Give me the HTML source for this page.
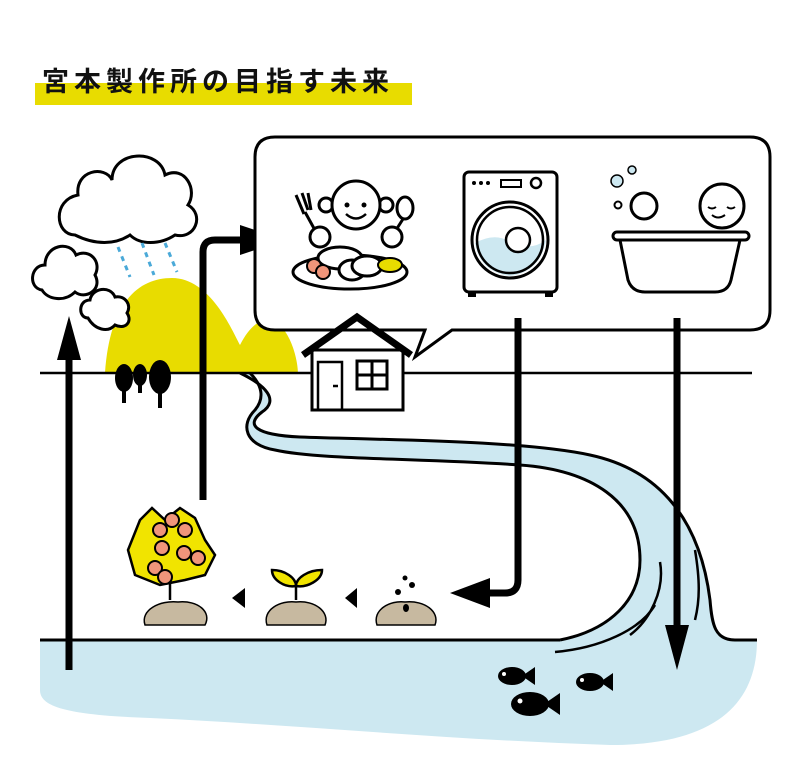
<!DOCTYPE html>
<html><head><meta charset="utf-8"><style>
html,body{margin:0;padding:0;background:#fff;}
svg{display:block;}
</style></head><body>
<svg width="800" height="766" viewBox="0 0 800 766" xmlns="http://www.w3.org/2000/svg">
<!-- title -->
<rect x="35" y="83" width="377" height="22" fill="#e8dc00"/>
<text x="42" y="91" font-family="'Noto Sans CJK JP','WenQuanYi Zen Hei',sans-serif" font-weight="bold" font-size="27" letter-spacing="5" fill="#111">宮本製作所の目指す未来</text>

<!-- water body -->
<path d="M40 640 L757 640 C757 700 720 745 610 745 C450 740 300 725 150 718 C60 715 40 705 40 690 Z" fill="#cde8f1"/>
<!-- river -->
<path d="M240 373 C265 385 280 400 262 412 C245 425 255 435 300 437 C380 440 520 440 590 455 C660 470 700 520 710 600 C712 625 715 640 735 640 L560 640 C610 630 640 600 640 560 C640 500 590 470 520 465 C420 458 320 460 275 450 C245 445 240 425 255 410 C265 398 260 385 250 373 Z" fill="#cde8f1"/>
<path d="M240 373 C265 385 280 400 262 412 C245 425 255 435 300 437 C380 440 520 440 590 455 C660 470 700 520 710 600 C712 625 715 640 735 640" fill="none" stroke="#000" stroke-width="3"/>
<path d="M250 373 C262 385 265 398 255 410 C240 425 245 445 275 450 C320 460 420 458 520 465 C590 470 640 500 640 560 C640 600 610 630 560 640" fill="none" stroke="#000" stroke-width="3"/>
<path d="M660 562 C665 590 650 620 630 635" fill="none" stroke="#000" stroke-width="2.5"/>
<path d="M555 652 C600 648 640 630 655 605" fill="none" stroke="#000" stroke-width="2.5"/>
<path d="M695 550 C700 580 700 600 695 620" fill="none" stroke="#000" stroke-width="2.5"/>

<!-- hills -->
<path d="M105 373 C110 300 140 278 172 278 C210 278 232 330 240 345 C250 325 262 318 270 320 C290 325 298 360 298 373 Z" fill="#e8dc00"/>

<!-- ground and water lines -->
<line x1="40" y1="373" x2="752" y2="373" stroke="#000" stroke-width="2.5"/>
<line x1="40" y1="640" x2="560" y2="640" stroke="#000" stroke-width="3"/>
<line x1="735" y1="640" x2="757" y2="640" stroke="#000" stroke-width="3"/>

<!-- trees -->
<g fill="#000">
<ellipse cx="124" cy="378" rx="9" ry="14"/><rect x="122" y="388" width="4" height="15"/>
<ellipse cx="140" cy="375" rx="7" ry="11"/><rect x="138" y="383" width="4" height="10"/>
<ellipse cx="160" cy="377" rx="11" ry="17"/><rect x="158" y="390" width="4" height="18"/>
</g>

<!-- clouds -->
<g fill="#fff" stroke="#000" stroke-width="3">
<path d="M75 235 C55 235 52 200 78 195 C75 170 105 165 112 180 C112 150 160 148 165 175 C185 165 198 190 188 205 C205 215 195 240 175 235 C160 245 140 245 130 235 C115 245 95 245 75 235 Z"/>
<path d="M42 290 C28 288 30 265 45 265 C45 245 70 240 76 255 C90 248 102 262 95 275 C103 290 85 300 75 292 C65 302 48 300 42 290 Z"/>
<path d="M88 318 C78 318 78 300 90 300 C92 288 110 285 115 297 C125 295 132 305 127 313 C133 322 125 330 115 325 C108 333 95 330 88 318 Z"/>
</g>
<g stroke="#4aa9d8" stroke-width="3" stroke-dasharray="5 5">
<line x1="118" y1="247" x2="130" y2="277"/><line x1="142" y1="243" x2="154" y2="275"/><line x1="165" y1="243" x2="177" y2="272"/>
</g>

<!-- left up arrow -->
<line x1="69" y1="670" x2="69" y2="350" stroke="#000" stroke-width="7"/>
<polygon points="57,360 81,360 69,316" fill="#000"/>

<!-- arrow from tree up and right -->
<path d="M203 500 L203 252 Q203 240 215 240 L245 240" fill="none" stroke="#000" stroke-width="7"/>
<polygon points="240,225 285,240 240,255" fill="#000"/>

<!-- speech bubble -->
<path d="M275 137 L750 137 Q770 137 770 157 L770 310 Q770 330 750 330 L452 330 L415 357 L425 330 L275 330 Q255 330 255 310 L255 157 Q255 137 275 137 Z" fill="#fff" stroke="#000" stroke-width="3"/>

<!-- house -->
<rect x="312" y="350" width="91" height="60" fill="#fff" stroke="#000" stroke-width="3"/>
<polyline points="303,355 357,317 411,355" fill="none" stroke="#000" stroke-width="7"/>
<rect x="318" y="362" width="24" height="48" fill="none" stroke="#000" stroke-width="2.5"/>
<line x1="333" y1="386" x2="338" y2="386" stroke="#000" stroke-width="2.5"/>
<rect x="357" y="361" width="30" height="28" fill="none" stroke="#000" stroke-width="3"/>
<line x1="372" y1="361" x2="372" y2="389" stroke="#000" stroke-width="3"/>
<line x1="357" y1="375" x2="387" y2="375" stroke="#000" stroke-width="3"/>

<!-- food kid -->
<g stroke="#000" stroke-width="3" fill="#fff">
<circle cx="326" cy="205" r="7"/><circle cx="386" cy="205" r="7"/>
<circle cx="356" cy="205" r="24"/>
<line x1="305" y1="212" x2="316" y2="232"/>
<path d="M296 195 L304 214 M302 193 L308 210 M308 193 L311 210"/>
<line x1="403" y1="219" x2="396" y2="230"/>
<ellipse cx="405" cy="208" rx="8" ry="11"/>
<circle cx="320" cy="237" r="10"/><circle cx="392" cy="237" r="10"/>
<ellipse cx="350" cy="272" rx="57" ry="17"/>
<ellipse cx="340" cy="258" rx="22" ry="11"/>
<ellipse cx="352" cy="270" rx="13" ry="10"/>
<ellipse cx="367" cy="266" rx="15" ry="10"/>
</g>
<circle cx="347" cy="205" r="2.5"/><circle cx="364" cy="205" r="2.5"/>
<path d="M346 214 Q356 223 366 214" fill="none" stroke="#000" stroke-width="2.5"/>
<circle cx="314" cy="266" r="7" fill="#f0957a" stroke="#000" stroke-width="2"/>
<circle cx="323" cy="272" r="7" fill="#f0957a" stroke="#000" stroke-width="2"/>
<ellipse cx="390" cy="265" rx="12" ry="7" fill="#e8dc00" stroke="#000" stroke-width="2"/>

<!-- washing machine -->
<rect x="464" y="172" width="93" height="120" rx="5" fill="#fff" stroke="#000" stroke-width="3"/>
<rect x="468" y="292" width="8" height="5"/><rect x="545" y="292" width="8" height="5"/>
<circle cx="474" cy="183" r="2"/><circle cx="481" cy="183" r="2"/><circle cx="488" cy="183" r="2"/>
<rect x="501" y="180" width="20" height="7" fill="none" stroke="#000" stroke-width="2"/>
<circle cx="536" cy="183" r="5" fill="none" stroke="#000" stroke-width="2.5"/>
<circle cx="510" cy="240" r="38" fill="#fff" stroke="#000" stroke-width="3"/>
<path d="M475 243 Q495 232 510 242 Q530 252 546 240 Q540 272 510 276 Q480 272 475 243 Z" fill="#cde8f1"/>
<circle cx="510" cy="240" r="33" fill="none" stroke="#000" stroke-width="2.5"/>
<circle cx="518" cy="240" r="12" fill="#fff" stroke="#000" stroke-width="2.5"/>

<!-- bath -->
<circle cx="722" cy="206" r="22" fill="#fff" stroke="#000" stroke-width="3"/>
<circle cx="644" cy="206" r="13" fill="#fff" stroke="#000" stroke-width="3"/>
<path d="M712 215 Q718 220 725 215" fill="none" stroke="#000" stroke-width="2"/>
<path d="M708 207 q4 3 8 0 M727 207 q4 3 8 0" fill="none" stroke="#000" stroke-width="2"/>
<circle cx="617" cy="181" r="6" fill="#cde8f1" stroke="#000" stroke-width="1.5"/>
<circle cx="618" cy="205" r="3.5" fill="none" stroke="#000" stroke-width="2"/>
<circle cx="632" cy="170" r="4" fill="#cde8f1" stroke="#000" stroke-width="1.5"/>
<rect x="613" y="232" width="136" height="8" rx="4" fill="#fff" stroke="#000" stroke-width="3"/>
<path d="M620 240 L628 280 Q632 292 645 292 L715 292 Q728 292 731 280 L740 240 Z" fill="#fff" stroke="#000" stroke-width="3"/>

<!-- washer drain arrow -->
<path d="M518 318 L518 580 Q518 593 505 593 L485 593" fill="none" stroke="#000" stroke-width="7"/>
<polygon points="450,593 490,578 490,608" fill="#000"/>

<!-- bath drain arrow -->
<line x1="677" y1="318" x2="677" y2="630" stroke="#000" stroke-width="7"/>
<polygon points="665,625 689,625 677,670" fill="#000"/>

<!-- plants -->
<g>
<path d="M145 625 C140 610 160 600 178 602 C198 600 212 612 205 625 Z" fill="#c7b9a0" stroke="#000" stroke-width="1.5"/>
<line x1="170" y1="600" x2="170" y2="560" stroke="#000" stroke-width="2.5"/>
<path d="M140 520 L152 508 L165 520 L180 508 L195 518 L205 540 L215 555 L205 575 L185 580 L160 585 L135 575 L128 550 Z" fill="#f1e400" stroke="#000" stroke-width="2.5"/>
<g fill="#f0957a" stroke="#000" stroke-width="2">
<circle cx="160" cy="530" r="7"/><circle cx="172" cy="520" r="7"/><circle cx="185" cy="530" r="7"/><circle cx="162" cy="548" r="7"/><circle cx="184" cy="553" r="7"/><circle cx="198" cy="558" r="7"/><circle cx="155" cy="568" r="7"/><circle cx="165" cy="577" r="7"/>
</g>
<polygon points="232,598 245,588 245,608" fill="#000"/>
<path d="M267 625 C262 610 280 600 296 602 C315 600 330 612 325 625 Z" fill="#c7b9a0" stroke="#000" stroke-width="1.5"/>
<line x1="296" y1="600" x2="296" y2="585" stroke="#000" stroke-width="2.5"/>
<path d="M296 586 C285 588 272 580 272 570 C285 570 296 578 296 586 Z" fill="#f1e400" stroke="#000" stroke-width="2.5"/>
<path d="M296 586 C307 588 322 580 322 570 C308 570 296 578 296 586 Z" fill="#f1e400" stroke="#000" stroke-width="2.5"/>
<polygon points="345,598 357,588 357,608" fill="#000"/>
<path d="M377 625 C372 610 390 600 405 602 C425 600 440 612 435 625 Z" fill="#c7b9a0" stroke="#000" stroke-width="1.5"/>
<ellipse cx="406" cy="608" rx="3" ry="4"/>
<circle cx="398" cy="592" r="3"/><circle cx="412" cy="585" r="3"/><circle cx="405" cy="578" r="2.5"/>
</g>

<!-- fish -->
<g fill="#000">
<ellipse cx="512" cy="676" rx="14" ry="9"/><polygon points="522,676 535,667 535,685"/>
<ellipse cx="590" cy="682" rx="14" ry="9"/><polygon points="600,682 613,673 613,691"/>
<ellipse cx="530" cy="704" rx="19" ry="12"/><polygon points="544,704 560,693 560,715"/>
</g>
<g fill="#fff"><circle cx="504" cy="674" r="2"/><circle cx="582" cy="680" r="2"/><circle cx="520" cy="701" r="2.5"/></g>
</svg>
</body></html>
